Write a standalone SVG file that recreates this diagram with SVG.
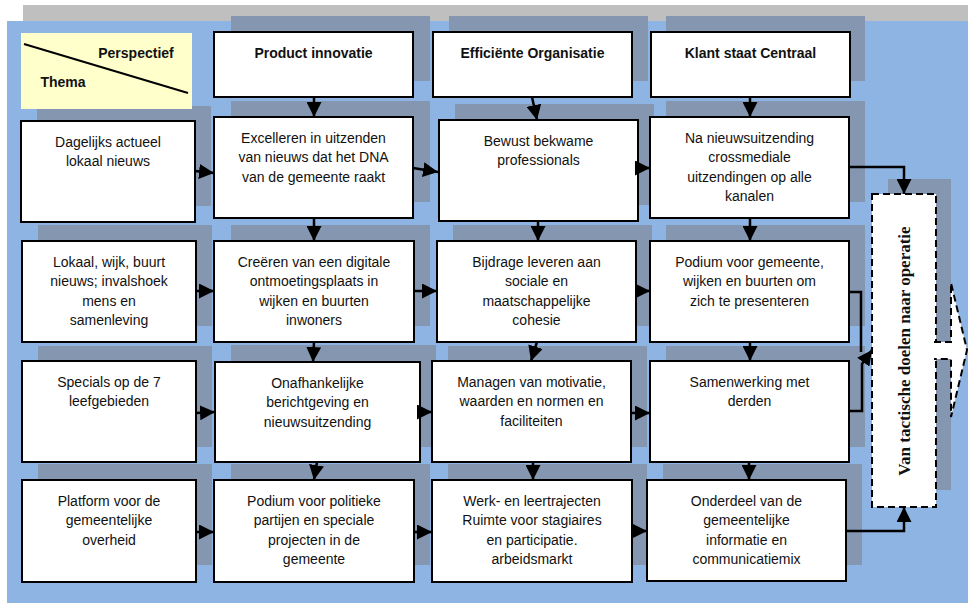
<svg xmlns="http://www.w3.org/2000/svg" width="968" height="603" viewBox="0 0 968 603">
<style>
.sh{fill:#8596B0}
.bx{fill:#fff;stroke:#000;stroke-width:2}
.t{font-family:"Liberation Sans",Arial,sans-serif;font-size:14px;fill:#111;text-anchor:middle}
.b{font-weight:bold}
.c{fill:none;stroke:#000;stroke-width:2.5;marker-end:url(#ah)}
.cn{fill:none;stroke:#000;stroke-width:2.5}
</style>
<defs>
<marker id="ah" markerUnits="userSpaceOnUse" markerWidth="15" markerHeight="15" viewBox="0 0 15 15" refX="15" refY="7.5" orient="auto">
<path d="M0,0 L15,7.5 L0,15 z" fill="#000"/>
</marker>
</defs>
<rect x="23" y="5" width="945" height="16" fill="#BFBFBF"/>
<rect x="7" y="21" width="961" height="582" fill="#8EB4E3"/>

<g id="shadows">
<rect class="sh" x="231" y="16" width="199" height="65"/>
<rect class="sh" x="449" y="16" width="199" height="65"/>
<rect class="sh" x="666" y="16" width="199" height="65"/>
<rect class="sh" x="37" y="106" width="174" height="100"/>
<rect class="sh" x="231" y="101" width="199" height="101"/>
<rect class="sh" x="455" y="104" width="199" height="101"/>
<rect class="sh" x="666" y="101" width="199" height="101"/>
<rect class="sh" x="38" y="225" width="174" height="101"/>
<rect class="sh" x="231" y="225" width="199" height="101"/>
<rect class="sh" x="453" y="225" width="199" height="101"/>
<rect class="sh" x="666" y="225" width="199" height="101"/>
<rect class="sh" x="38" y="346" width="174" height="101"/>
<rect class="sh" x="231" y="345" width="205" height="102"/>
<rect class="sh" x="448" y="346" width="199" height="101"/>
<rect class="sh" x="666" y="346" width="199" height="101"/>
<rect class="sh" x="38" y="464" width="174" height="101"/>
<rect class="sh" x="231" y="464" width="199" height="101"/>
<rect class="sh" x="448" y="464" width="199" height="101"/>
<rect class="sh" x="663" y="464" width="199" height="101"/>
<rect class="sh" x="888" y="179" width="63" height="311"/>
</g>

<g id="legend">
<rect x="21" y="33" width="171" height="76" fill="#FFFFCC"/>
<line x1="24" y1="44" x2="188" y2="93" stroke="#000" stroke-width="2"/>
<text class="t b" x="136" y="58">Perspectief</text>
<text class="t b" x="63" y="87">Thema</text>
</g>

<g id="h-product">
<rect class="bx" x="214" y="32" width="199" height="65"/>
<text class="t b" x="313.5" y="58">Product innovatie</text>
</g>
<g id="h-efficient">
<rect class="bx" x="433" y="32" width="199" height="65"/>
<text class="t b" x="532.5" y="58">Efficiënte Organisatie</text>
</g>
<g id="h-klant">
<rect class="bx" x="651" y="32" width="199" height="65"/>
<text class="t b" x="750.5" y="58">Klant staat Centraal</text>
</g>

<g id="r1c1">
<rect class="bx" x="21" y="121" width="174" height="101"/>
<text class="t" x="108" y="147"><tspan x="108">Dagelijks actueel</tspan><tspan x="108" dy="19.3">lokaal nieuws</tspan></text>
</g>
<g id="r1c2">
<rect class="bx" x="214" y="117" width="199" height="101"/>
<text class="t" x="313.5" y="143"><tspan x="313.5">Excelleren in uitzenden</tspan><tspan x="313.5" dy="19.3">van nieuws dat het DNA</tspan><tspan x="313.5" dy="19.3">van de gemeente raakt</tspan></text>
</g>
<g id="r1c3">
<rect class="bx" x="439" y="120" width="199" height="101"/>
<text class="t" x="538.5" y="146"><tspan x="538.5">Bewust bekwame</tspan><tspan x="538.5" dy="19.3">professionals</tspan></text>
</g>
<g id="r1c4">
<rect class="bx" x="650" y="117" width="199" height="101"/>
<text class="t" x="749.5" y="143"><tspan x="749.5">Na nieuwsuitzending</tspan><tspan x="749.5" dy="19.3">crossmediale</tspan><tspan x="749.5" dy="19.3">uitzendingen op alle</tspan><tspan x="749.5" dy="19.3">kanalen</tspan></text>
</g>

<g id="r2c1">
<rect class="bx" x="22" y="241" width="174" height="101"/>
<text class="t" x="109" y="267"><tspan x="109">Lokaal, wijk, buurt</tspan><tspan x="109" dy="19.3">nieuws; invalshoek</tspan><tspan x="109" dy="19.3">mens en</tspan><tspan x="109" dy="19.3">samenleving</tspan></text>
</g>
<g id="r2c2">
<rect class="bx" x="214" y="241" width="200" height="101"/>
<text class="t" x="314" y="267"><tspan x="314">Creëren van een digitale</tspan><tspan x="314" dy="19.3">ontmoetingsplaats in</tspan><tspan x="314" dy="19.3">wijken en buurten</tspan><tspan x="314" dy="19.3">inwoners</tspan></text>
</g>
<g id="r2c3">
<rect class="bx" x="437" y="241" width="199" height="101"/>
<text class="t" x="536.5" y="267"><tspan x="536.5">Bijdrage leveren aan</tspan><tspan x="536.5" dy="19.3">sociale en</tspan><tspan x="536.5" dy="19.3">maatschappelijke</tspan><tspan x="536.5" dy="19.3">cohesie</tspan></text>
</g>
<g id="r2c4">
<rect class="bx" x="650" y="241" width="199" height="101"/>
<text class="t" x="749.5" y="267"><tspan x="749.5">Podium voor gemeente,</tspan><tspan x="749.5" dy="19.3">wijken en buurten om</tspan><tspan x="749.5" dy="19.3">zich te presenteren</tspan></text>
</g>

<g id="r3c1">
<rect class="bx" x="22" y="361" width="174" height="101"/>
<text class="t" x="109" y="387"><tspan x="109">Specials op de 7</tspan><tspan x="109" dy="19.3">leefgebieden</tspan></text>
</g>
<g id="r3c2">
<rect class="bx" x="215" y="362" width="205" height="100"/>
<text class="t" x="317.5" y="388"><tspan x="317.5">Onafhankelijke</tspan><tspan x="317.5" dy="19.3">berichtgeving en</tspan><tspan x="317.5" dy="19.3">nieuwsuitzending</tspan></text>
</g>
<g id="r3c3">
<rect class="bx" x="432" y="361" width="199" height="101"/>
<text class="t" x="531.5" y="387"><tspan x="531.5">Managen van motivatie,</tspan><tspan x="531.5" dy="19.3">waarden en normen en</tspan><tspan x="531.5" dy="19.3">faciliteiten</tspan></text>
</g>
<g id="r3c4">
<rect class="bx" x="650" y="361" width="199" height="101"/>
<text class="t" x="749.5" y="387"><tspan x="749.5">Samenwerking met</tspan><tspan x="749.5" dy="19.3">derden</tspan></text>
</g>

<g id="r4c1">
<rect class="bx" x="22" y="480" width="174" height="102"/>
<text class="t" x="109" y="506"><tspan x="109">Platform voor de</tspan><tspan x="109" dy="19.3">gemeentelijke</tspan><tspan x="109" dy="19.3">overheid</tspan></text>
</g>
<g id="r4c2">
<rect class="bx" x="214" y="480" width="200" height="102"/>
<text class="t" x="314" y="506"><tspan x="314">Podium voor politieke</tspan><tspan x="314" dy="19.3">partijen en speciale</tspan><tspan x="314" dy="19.3">projecten in de</tspan><tspan x="314" dy="19.3">gemeente</tspan></text>
</g>
<g id="r4c3">
<rect class="bx" x="432" y="480" width="200" height="102"/>
<text class="t" x="532" y="506"><tspan x="532">Werk- en leertrajecten</tspan><tspan x="532" dy="19.3">Ruimte voor stagiaires</tspan><tspan x="532" dy="19.3">en participatie.</tspan><tspan x="532" dy="19.3">arbeidsmarkt</tspan></text>
</g>
<g id="r4c4">
<rect class="bx" x="647" y="480" width="199" height="101"/>
<text class="t" x="746.5" y="506"><tspan x="746.5">Onderdeel van de</tspan><tspan x="746.5" dy="19.3">gemeentelijke</tspan><tspan x="746.5" dy="19.3">informatie en</tspan><tspan x="746.5" dy="19.3">communicatiemix</tspan></text>
</g>

<g id="goal">
<rect x="872" y="194" width="64" height="313" fill="#fff" stroke="#000" stroke-width="2" stroke-dasharray="7,4"/>
<path d="M934,342 H951 V283 L967,350 L951,417 V359 H934" fill="#fff" stroke="#000" stroke-width="2" stroke-dasharray="7,4"/>
<text x="910" y="351" transform="rotate(-90 910 351)" font-family="'Liberation Serif','Times New Roman',serif" font-size="17" font-weight="bold" text-anchor="middle" fill="#111">Van tactische doelen naar operatie</text>
</g>

<g id="connectors">
<path class="c" d="M314,97 L314,117"/>
<path class="c" d="M532,97 L537,120"/>
<path class="c" d="M750,97 L750,117"/>
<path class="c" d="M195,171 L214,173"/>
<path class="c" d="M413,168 L438,172"/>
<path class="c" d="M636,168 L650,168"/>
<path class="c" d="M849,167 H904 V194"/>
<path class="c" d="M314,218 L314,241"/>
<path class="c" d="M538,221 L538,241"/>
<path class="c" d="M750,218 L750,241"/>
<path class="c" d="M196,291 L214,291"/>
<path class="c" d="M414,291 L437,291"/>
<path class="c" d="M636,291 L650,291"/>
<path class="cn" d="M849,292 H861 V352"/>
<path class="c" d="M314,342 L313,362"/>
<path class="c" d="M537,342 L531,361"/>
<path class="c" d="M750,342 L750,361"/>
<path class="c" d="M196,413 L215,412"/>
<path class="c" d="M420,412 L432,412"/>
<path class="c" d="M631,413 L650,413"/>
<path class="c" d="M849,411 H862 V364 L872,350"/>
<path class="c" d="M317,462 L314,480"/>
<path class="c" d="M533,462 L533,480"/>
<path class="c" d="M749,462 L749,480"/>
<path class="c" d="M196,532 L214,532"/>
<path class="c" d="M414,532 L432,532"/>
<path class="c" d="M632,531 L647,531"/>
<path class="c" d="M846,531 H904 V507"/>
</g>
</svg>
